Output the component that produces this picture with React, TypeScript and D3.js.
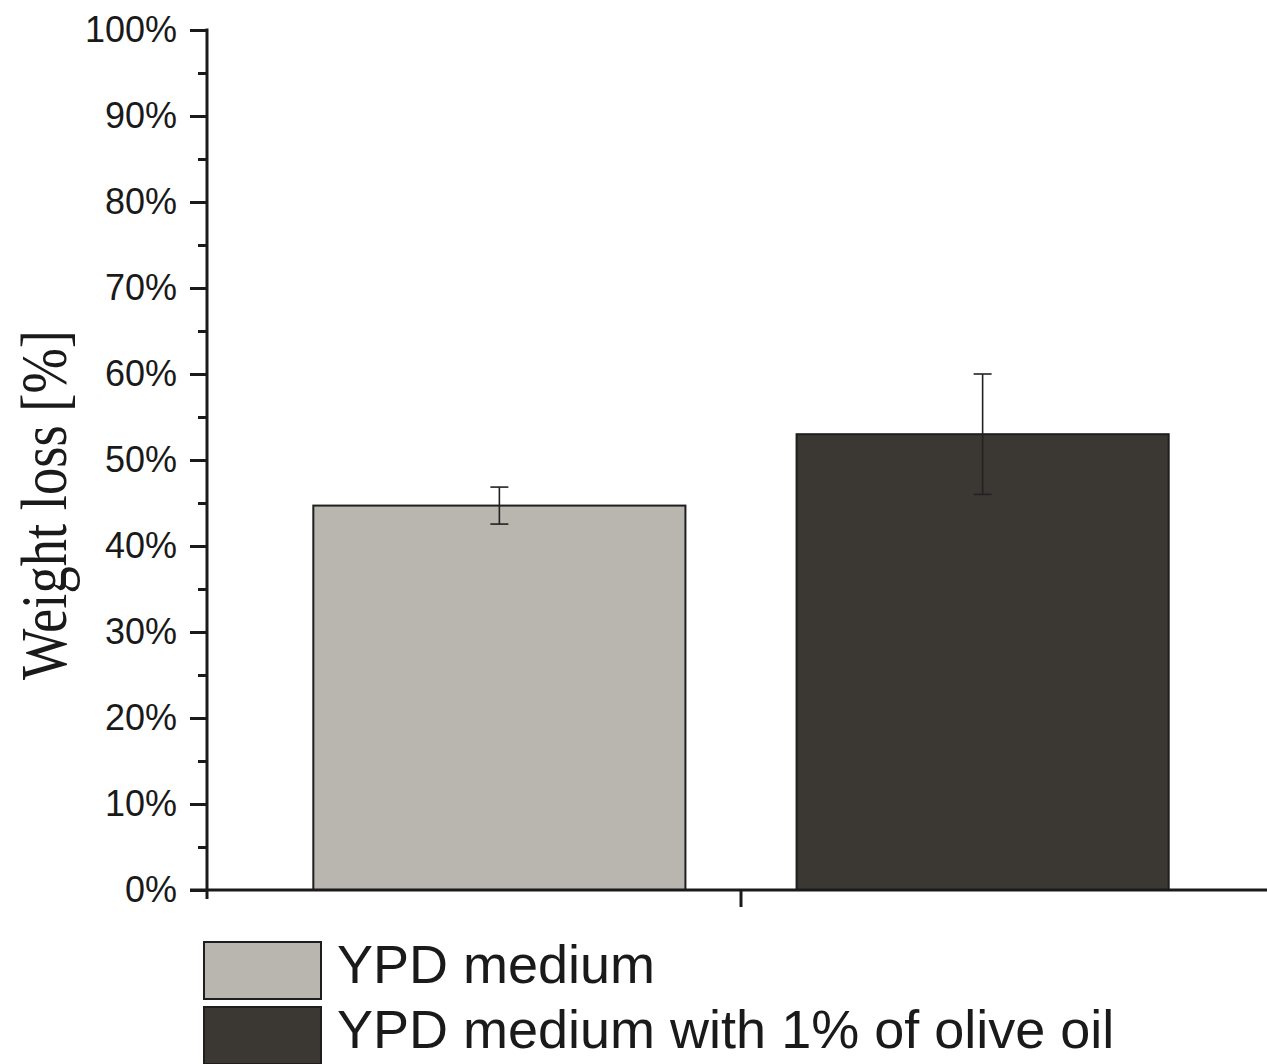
import * as d3 from "d3";
import { useEffect, useRef } from "react";

const categories = ["YPD medium", "YPD medium with 1% of olive oil"];
const weightLoss = [44.7, 53.0];
const errors = [2.15, 7.0];
const colors = ["#b9b5af", "#3b3833"];
const majorTicks = [0, 10, 20, 30, 40, 50, 60, 70, 80, 90, 100];
const minorTicks = [5, 15, 25, 35, 45, 55, 65, 75, 85, 95];

const App = () => {
  const ref = useRef<SVGSVGElement>(null);
  const width = 1267;
  const height = 1064;
  const margin = { top: 30, left: 207, bottom: 174 };
  const plotBottom = height - margin.bottom;

  useEffect(() => {
    const svg = d3.select(ref.current);
    svg.selectAll("*").remove();

    const x = d3
      .scaleBand()
      .domain(categories)
      .range([margin.left, 1275])
      .paddingInner(0.23)
      .paddingOuter(0.22);
    const y = d3.scaleLinear().domain([0, 100]).range([plotBottom, margin.top]);

    // bars
    svg
      .append("g")
      .selectAll("rect")
      .data(categories)
      .join("rect")
      .attr("x", (d) => x(d)!)
      .attr("y", (d, i) => y(weightLoss[i]))
      .attr("width", x.bandwidth())
      .attr("height", (d, i) => y(0) - y(weightLoss[i]))
      .attr("fill", (d, i) => colors[i])
      .attr("stroke", "#1e1e1e")
      .attr("stroke-width", 2);

    // error bars
    const eb = svg.append("g").attr("stroke", "#222").attr("stroke-width", 1.6);
    categories.forEach((c, i) => {
      const cx = x(c)! + x.bandwidth() / 2;
      const hi = y(weightLoss[i] + errors[i]);
      const lo = y(weightLoss[i] - errors[i]);
      eb.append("line").attr("x1", cx).attr("x2", cx).attr("y1", hi).attr("y2", lo);
      eb.append("line").attr("x1", cx - 9).attr("x2", cx + 9).attr("y1", hi).attr("y2", hi);
      eb.append("line").attr("x1", cx - 9).attr("x2", cx + 9).attr("y1", lo).attr("y2", lo);
    });

    // y axis
    const yAxis = d3
      .axisLeft(y)
      .tickValues(majorTicks)
      .tickFormat((d) => `${d}%`)
      .tickSize(17)
      .tickPadding(13)
      .tickSizeOuter(0);
    const gy = svg
      .append("g")
      .attr("transform", `translate(${margin.left},0)`)
      .call(yAxis);
    gy.select(".domain").remove();
    gy.selectAll("line").attr("stroke", "#1a1a1a").attr("stroke-width", 3);
    gy.selectAll("text")
      .attr("font-family", "Liberation Sans, Arial, sans-serif")
      .attr("font-size", 36)
      .attr("fill", "#1a1a1a");

    const yMinor = d3.axisLeft(y).tickValues(minorTicks).tickFormat(() => "").tickSize(9).tickSizeOuter(0);
    const gm = svg
      .append("g")
      .attr("transform", `translate(${margin.left},0)`)
      .call(yMinor);
    gm.select(".domain").remove();
    gm.selectAll("line").attr("stroke", "#1a1a1a").attr("stroke-width", 3);

    // axis lines
    const axes = svg.append("g").attr("stroke", "#1a1a1a").attr("stroke-width", 3);
    axes
      .append("line")
      .attr("x1", margin.left)
      .attr("x2", margin.left)
      .attr("y1", margin.top - 1.5)
      .attr("y2", plotBottom + 9);
    axes
      .append("line")
      .attr("x1", margin.left - 17)
      .attr("x2", 1275)
      .attr("y1", plotBottom)
      .attr("y2", plotBottom);
    const mid = (margin.left + 1275) / 2;
    axes
      .append("line")
      .attr("x1", mid)
      .attr("x2", mid)
      .attr("y1", plotBottom)
      .attr("y2", plotBottom + 17);

    // y label
    svg
      .append("text")
      .attr("transform", `translate(66,505) rotate(-90)`)
      .attr("text-anchor", "middle")
      .attr("font-family", "Liberation Serif, Times New Roman, serif")
      .attr("font-size", 66)
      .attr("textLength", 350)
      .attr("lengthAdjust", "spacingAndGlyphs")
      .attr("fill", "#1a1a1a")
      .text("Weight loss [%]");

    // legend
    const lg = svg.append("g");
    categories.forEach((c, i) => {
      const top = 942 + i * 65;
      lg.append("rect")
        .attr("x", 204)
        .attr("y", top)
        .attr("width", 117)
        .attr("height", 57)
        .attr("fill", colors[i])
        .attr("stroke", "#1e1e1e")
        .attr("stroke-width", 2);
      lg.append("text")
        .attr("x", 337)
        .attr("y", top + 41)
        .attr("font-family", "Liberation Sans, Arial, sans-serif")
        .attr("font-size", 54)
        .attr("fill", "#1a1a1a")
        .text(c);
    });
  }, []);

  return (
    <svg
      ref={ref}
      width={width}
      height={height}
      style={{ position: "absolute", left: 0, top: 0, background: "#fff" }}
    ></svg>
  );
};

export default App;
